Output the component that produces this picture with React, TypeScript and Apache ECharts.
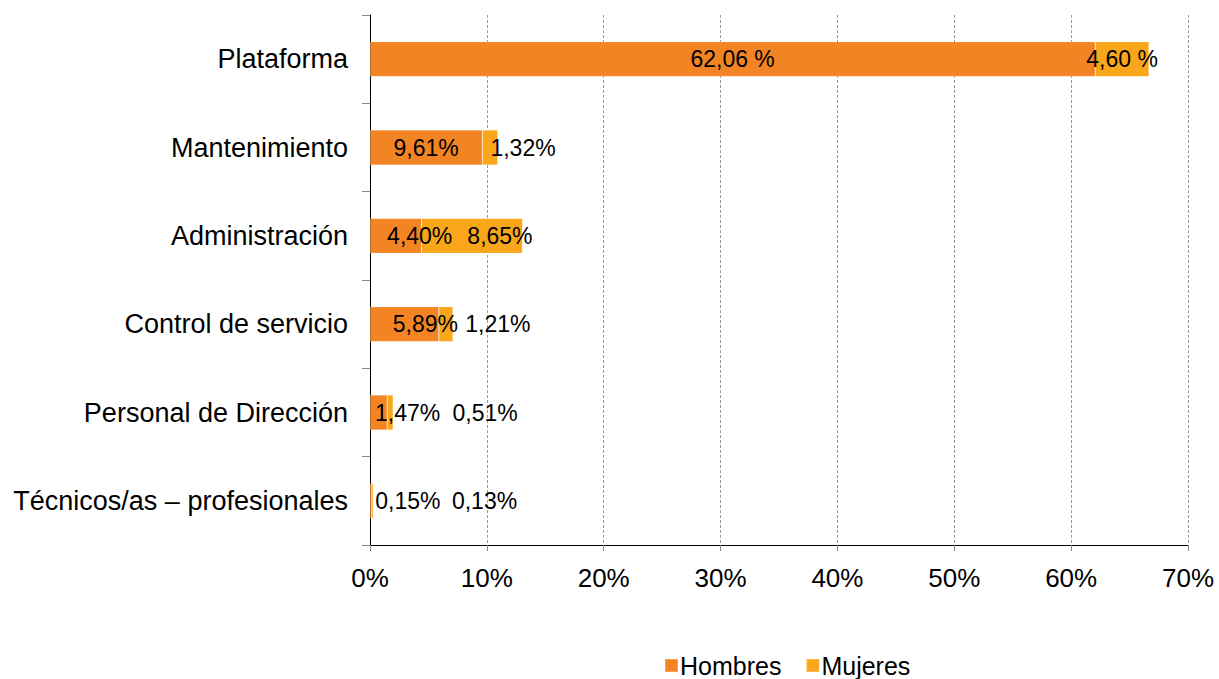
import React, { useEffect, useRef } from "react";
import * as echarts from "echarts";

const categories = [
  "Plataforma",
  "Mantenimiento",
  "Administración",
  "Control de servicio",
  "Personal de Dirección",
  "Técnicos/as – profesionales",
];
const hombres = [62.06, 9.61, 4.4, 5.89, 1.47, 0.15];
const mujeres = [4.6, 1.32, 8.65, 1.21, 0.51, 0.13];
const xTicks = [0, 10, 20, 30, 40, 50, 60, 70];

// label placement tweaks (pixels, relative to segment centre)
const hombresLabelShift = [0, 0, 24, 21, 29, 37];
const mujeresLabelShift = [0, 33, 28, 52, 95, 112];

const FONT = "'Liberation Sans', Arial, Helvetica, sans-serif";

const fmt = (v: number, i: number) =>
  v.toFixed(2).replace(".", ",") + (i === 0 ? " %" : "%");

export default function App() {
  const ref = useRef<HTMLDivElement>(null);
  useEffect(() => {
    if (!ref.current) return;
    const chart = echarts.init(ref.current, undefined, { renderer: "svg" });
    const mk = (vals: number[], shifts: number[]) =>
      vals.map((v, i) => ({
        value: v,
        label: { offset: [shifts[i], 0] },
      }));
    chart.setOption({
      animation: false,
      backgroundColor: "#ffffff",
      textStyle: { fontFamily: FONT },
      grid: { left: 370, right: 31, top: 15, bottom: 134, containLabel: false },
      legend: {
        data: ["Hombres", "Mujeres"],
        top: 648,
        left: 659,
        icon: "rect",
        itemWidth: 13,
        itemHeight: 13,
        itemGap: 24,
        textStyle: { fontSize: 25, color: "#000", fontFamily: FONT, padding: [0, 0, 0, -3] },
      },
      xAxis: {
        type: "value",
        min: xTicks[0],
        max: xTicks[xTicks.length - 1],
        interval: 10,
        axisLine: { show: true, lineStyle: { color: "#000", width: 1 } },
        axisTick: { show: true, length: 6, lineStyle: { color: "#888" } },
        axisLabel: {
          fontSize: 26,
          color: "#000",
          margin: 20,
          fontFamily: FONT,
          formatter: (v: number) => `${v}%`,
        },
        splitLine: {
          show: true,
          lineStyle: { color: "#999", type: [3, 2], width: 1 },
        },
      },
      yAxis: {
        type: "category",
        data: categories,
        inverse: true,
        axisLine: { show: true, lineStyle: { color: "#000", width: 1 } },
        axisTick: { show: true, length: 8, lineStyle: { color: "#888" } },
        axisLabel: { fontSize: 27, color: "#000", margin: 22, fontFamily: FONT },
        splitLine: { show: false },
      },
      series: [
        {
          name: "Hombres",
          type: "bar",
          stack: "total",
          barWidth: 35,
          itemStyle: {
            color: "#F28424",
            borderColor: "rgba(255,255,255,0.25)",
            borderWidth: 0.6,
          },
          label: {
            show: true,
            position: "inside",
            color: "#000",
            fontSize: 23,
            fontFamily: FONT,
            formatter: (p: any) => fmt(p.value, p.dataIndex),
          },
          z: 2,
          data: mk(hombres, hombresLabelShift),
        },
        {
          name: "Mujeres",
          type: "bar",
          stack: "total",
          barWidth: 35,
          itemStyle: {
            color: "#FAA61A",
            borderColor: "rgba(255,255,255,0.25)",
            borderWidth: 0.6,
          },
          label: {
            show: true,
            position: "inside",
            color: "#000",
            fontSize: 23,
            fontFamily: FONT,
            formatter: (p: any) => fmt(p.value, p.dataIndex),
          },
          z: 2,
          data: mk(mujeres, mujeresLabelShift),
        },
      ],
    });
    return () => chart.dispose();
  }, []);
  return (
    <div
      ref={ref}
      style={{ position: "fixed", left: 0, top: 0, width: 1219, height: 679, background: "#fff" }}
    />
  );
}
